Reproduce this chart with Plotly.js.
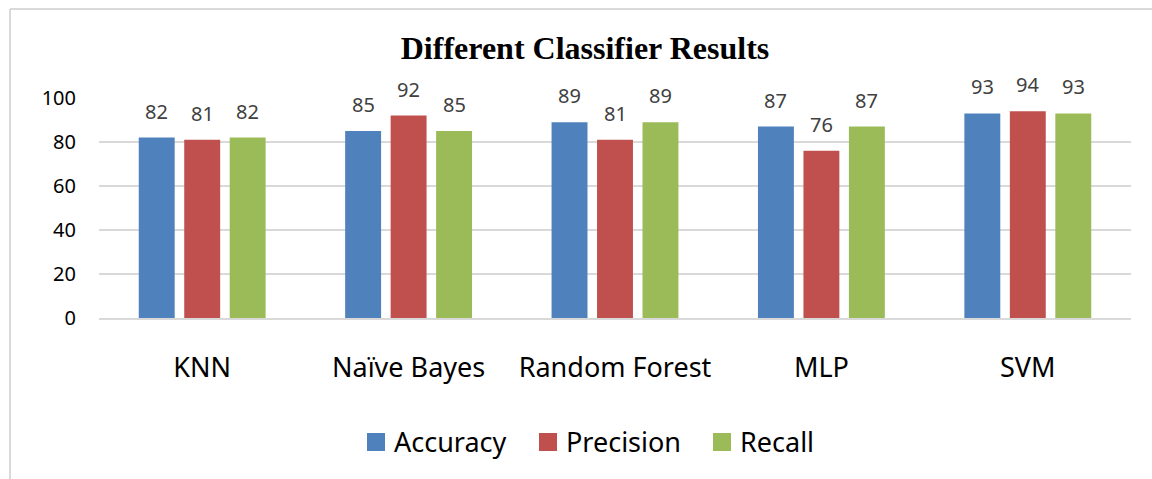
<!DOCTYPE html>
<html>
<head>
<meta charset="utf-8">
<script src="https://cdn.plot.ly/plotly-3.0.1.min.js"></script>
<style>
html,body{margin:0;padding:0;background:#fff;}
#chart{width:1152px;height:479px;}
</style>
</head>
<body>
<div id="chart"></div>
<script>
const categories = ["KNN", "Naïve Bayes", "Random Forest", "MLP", "SVM"];
const accuracy = [82, 85, 89, 87, 93];
const precision = [81, 92, 81, 76, 94];
const recall = [82, 85, 89, 87, 93];
const seriesNames = ["Accuracy", "Precision", "Recall"];
const yTicks = [0, 20, 40, 60, 80, 100];

const colors = ["#4f81bd", "#c0504d", "#9bbb59"];
const series = [accuracy, precision, recall];
const FONT = "Noto Sans, Open Sans, sans-serif";

const traces = series.map((vals, i) => ({
  type: "bar",
  name: seriesNames[i],
  x: categories,
  y: vals,
  marker: {color: colors[i]},
  hoverinfo: "none",
  showlegend: false
}));

const L = 99, R = 21, T = 98, B = 161;
const pw = 1152 - L - R, ph = 479 - T - B;
const px = x => (x - L) / pw;
const py = y => (479 - B - y) / ph;

// value labels above bars (positioned via the data scales)
const offsets = [-45.5, 0, 45.5];
const annotations = [];
series.forEach((vals, i) => {
  vals.forEach((v, j) => {
    annotations.push({
      x: categories[j], y: v, xref: "x", yref: "y",
      text: String(v), showarrow: false,
      xshift: offsets[i], yshift: 11, yanchor: "bottom", xanchor: "center",
      font: {family: FONT, size: 20, color: "#404040"}
    });
  });
});

// legend (manual, to match large square swatches)
const legendSquares = [367, 539, 713];
const shapes = [
  {type: "line", xref: "paper", yref: "paper", x0: px(10), x1: px(10), y0: py(9), y1: py(479), line: {color: "#d9d9d9", width: 2}},
  {type: "line", xref: "paper", yref: "paper", x0: px(10), x1: px(1152), y0: py(9), y1: py(9), line: {color: "#d9d9d9", width: 2}}
];
seriesNames.forEach((name, i) => {
  const x0 = legendSquares[i];
  shapes.push({type: "rect", xref: "paper", yref: "paper",
    x0: px(x0), x1: px(x0 + 18), y0: py(433), y1: py(451),
    fillcolor: colors[i], line: {width: 0}});
  annotations.push({
    x: px(x0 + 25), y: py(442), xref: "paper", yref: "paper",
    text: name, showarrow: false, xanchor: "left", yanchor: "middle",
    font: {family: FONT, size: 27, color: "#000"}
  });
});

const layout = {
  width: 1152, height: 479,
  margin: {l: L, r: R, t: T, b: B, pad: 0},
  paper_bgcolor: "#ffffff",
  plot_bgcolor: "#ffffff",
  title: {
    text: "<b>Different Classifier Results</b>",
    font: {family: "Liberation Serif, Times New Roman, serif", size: 32, color: "#000"},
    x: 585/1152, xref: "container", xanchor: "center",
    y: 1 - 48/479, yanchor: "middle"
  },
  barmode: "group",
  bargap: 0.339,
  bargroupgap: 0.21,
  showlegend: false,
  xaxis: {
    type: "category",
    showgrid: false,
    showline: true,
    linecolor: "#d9d9d9",
    linewidth: 1.5,
    ticks: "",
    ticklabelstandoff: 25,
    tickfont: {family: FONT, size: 27, color: "#000"},
    fixedrange: true
  },
  yaxis: {
    range: [0, 100],
    tickvals: yTicks,
    ticktext: yTicks.map(String),
    showgrid: true,
    gridcolor: "#d9d9d9",
    gridwidth: 1.5,
    zeroline: false,
    showline: false,
    ticks: "",
    ticklabelstandoff: 22,
    tickfont: {family: FONT, size: 20, color: "#000"},
    fixedrange: true
  },
  annotations: annotations,
  shapes: shapes
};

Plotly.newPlot("chart", traces, layout, {displayModeBar: false, staticPlot: true});
</script>
</body>
</html>
